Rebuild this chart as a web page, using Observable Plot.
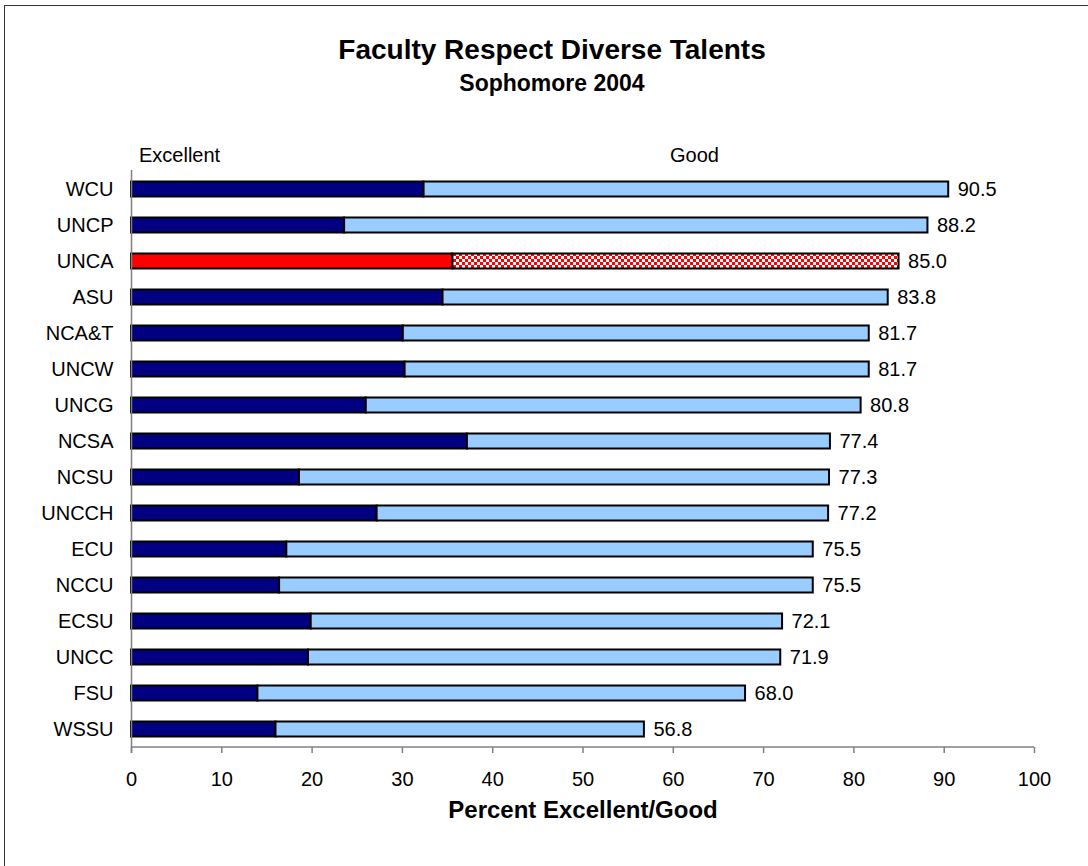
<!DOCTYPE html>
<html>
<head>
<meta charset="utf-8">
<script src="https://cdn.jsdelivr.net/npm/d3@7"></script>
<script src="https://cdn.jsdelivr.net/npm/@observablehq/plot@0.6"></script>
<style>
  html, body { margin: 0; padding: 0; background: #fff; overflow: hidden; }
  body { width: 1088px; height: 866px; position: relative; font-family: "Liberation Sans", Arial, sans-serif; color: #000; }
  #border { position: absolute; left: 4px; top: 5px; width: 1200px; height: 1000px; border: 1.5px solid #333; box-sizing: border-box; }
  .t { position: absolute; line-height: 1; white-space: nowrap; }
  #title { left: 0; width: 1104px; text-align: center; top: 36px; font-size: 28px; font-weight: bold; }
  #subtitle { left: 0; width: 1104px; text-align: center; top: 72px; font-size: 23px; font-weight: bold; }
  #lblExc { left: 139px; top: 145px; font-size: 20px; }
  #lblGood { left: 670px; top: 145px; font-size: 20px; }
  #chart { position: absolute; left: 0; top: 130px; }
</style>
</head>
<body>
<div id="border"></div>
<div class="t" id="title"></div>
<div class="t" id="subtitle"></div>
<div class="t" id="lblExc"></div>
<div class="t" id="lblGood"></div>
<div id="chart"></div>
<script>
const titleText = "Faculty Respect Diverse Talents";
const subtitleText = "Sophomore 2004";
const seriesNames = ["Excellent", "Good"];
const xTitle = "Percent Excellent/Good";
const schools = ["WCU","UNCP","UNCA","ASU","NCA&T","UNCW","UNCG","NCSA","NCSU","UNCCH","ECU","NCCU","ECSU","UNCC","FSU","WSSU"];
const excellent = [32.4,23.6,35.6,34.5,30.1,30.3,26.0,37.2,18.6,27.2,17.2,16.4,19.9,19.6,14.0,16.0];
const totals = [90.5,88.2,85.0,83.8,81.7,81.7,80.8,77.4,77.3,77.2,75.5,75.5,72.1,71.9,68.0,56.8];
const highlight = "UNCA";
const xTicks = [0,10,20,30,40,50,60,70,80,90,100];

document.getElementById("title").textContent = titleText;
document.getElementById("subtitle").textContent = subtitleText;
document.getElementById("lblExc").textContent = seriesNames[0];
document.getElementById("lblGood").textContent = seriesNames[1];

const rows = schools.map((s, i) => ({school: s, excellent: excellent[i], total: totals[i]}));

const svg = Plot.plot({
  width: 1088,
  height: 736,
  marginLeft: 131,
  marginRight: 54,
  marginTop: 40,
  marginBottom: 119,
  style: {fontFamily: "'Liberation Sans', Arial, sans-serif", fontSize: "20px", color: "#000", background: "transparent"},
  x: {domain: [0, 100]},
  y: {domain: schools, padding: 0},
  color: {type: "identity"},
  marks: [
    Plot.barX(rows, {
      y: "school", x1: 0, x2: "excellent",
      fill: d => d.school === highlight ? "#FF0000" : "#000080",
      stroke: "#000", strokeWidth: 2, insetTop: 10.5, insetBottom: 10.5
    }),
    Plot.barX(rows, {
      y: "school", x1: "excellent", x2: "total",
      fill: d => d.school === highlight ? "url(#checker)" : "#99CCFF",
      stroke: "#000", strokeWidth: 2, insetTop: 10.5, insetBottom: 10.5
    }),
    Plot.ruleX([0], {stroke: "#808080", strokeWidth: 1.5, insetBottom: -6}),
    Plot.text(rows, {
      x: "total", y: "school", text: d => d.total.toFixed(1),
      dx: 9, textAnchor: "start", fontSize: 20, fill: "#000"
    }),
    Plot.axisY({tickSize: 0, tickPadding: 18, fontSize: 20, label: null, fill: "#000"}),
    Plot.axisX({ticks: xTicks, tickSize: 6, tickPadding: 18, fontSize: 20, label: null, stroke: "#808080", strokeWidth: 1.5, fill: "#000"}),
    Plot.text([xTitle], {frameAnchor: "bottom", dy: 70, fontWeight: "bold", fontSize: 24, fill: "#000"})
  ]
});

// checkered pattern for the highlighted "Good" segment
const defs = d3.select(svg).insert("defs", ":first-child");
const pat = defs.append("pattern")
  .attr("id", "checker").attr("patternUnits", "userSpaceOnUse")
  .attr("width", 6).attr("height", 6);
pat.append("rect").attr("width", 6).attr("height", 6).attr("fill", "#fff");
pat.append("rect").attr("width", 3).attr("height", 3).attr("fill", "#FF0000");
pat.append("rect").attr("x", 3).attr("y", 3).attr("width", 3).attr("height", 3).attr("fill", "#FF0000");

// x-axis baseline drawn from the plot's own x scale
const xs = svg.scale("x");
const yBase = 736 - 119;
d3.select(svg).append("line")
  .attr("x1", xs.apply(0)).attr("x2", xs.apply(100))
  .attr("y1", yBase).attr("y2", yBase)
  .attr("stroke", "#808080").attr("stroke-width", 1.5);

document.getElementById("chart").appendChild(svg);
</script>
</body>
</html>
